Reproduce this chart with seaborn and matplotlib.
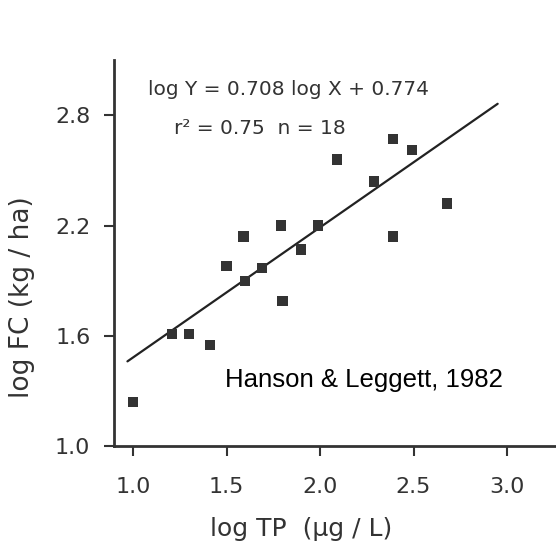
import numpy as np
import pandas as pd
import seaborn as sns
import matplotlib.pyplot as plt

# data (log TP vs log FC)
log_tp = [1.00, 1.21, 1.30, 1.41, 1.50, 1.60, 1.59, 1.69, 1.79, 1.80, 1.90, 1.99, 2.09, 2.29, 2.39, 2.39, 2.49, 2.68]
log_fc = [1.24, 1.61, 1.61, 1.55, 1.98, 1.90, 2.14, 1.97, 2.20, 1.79, 2.07, 2.20, 2.56, 2.44, 2.67, 2.14, 2.61, 2.32]

# regression line from the printed equation
slope = 0.708
intercept = 0.774
fit_x = np.array([0.97, 2.95])
fit_y = slope * fit_x + intercept

x_ticks = [1.0, 1.5, 2.0, 2.5, 3.0]
y_ticks = [1.0, 1.6, 2.2, 2.8]

df = pd.DataFrame({'log TP': log_tp, 'log FC': log_fc})

sns.set_style('ticks')
plt.rcParams['font.family'] = ['DejaVu Sans']

fig = plt.figure(figsize=(5.56, 5.47), dpi=100)
ax = fig.add_axes([0.205, 0.1846, 0.795, 0.7054])

ink = '#333333'

sns.lineplot(x=fit_x, y=fit_y, ax=ax, color='#222222', linewidth=1.6)
sns.scatterplot(data=df, x='log TP', y='log FC', ax=ax, marker='s', s=55,
                color=ink, edgecolor='none', zorder=3)

ax.set_xlim(0.898, 3.262)
ax.set_ylim(1.0, 3.10)
ax.set_xticks(x_ticks)
ax.set_yticks(y_ticks)
ax.set_xticklabels([f'{t:.1f}' for t in x_ticks])
ax.set_yticklabels([f'{t:.1f}' for t in y_ticks])
ax.tick_params(axis='both', colors=ink, labelsize=16, width=1.5, length=7)
ax.tick_params(axis='x', pad=15)
ax.tick_params(axis='y', pad=10)

sns.despine(ax=ax)
for side in ['left', 'bottom']:
    ax.spines[side].set_linewidth(2)
    ax.spines[side].set_color(ink)

ax.set_xlabel('log TP  (\u00b5g / L)', fontsize=18, color=ink)
ax.xaxis.set_label_coords(0.423, -0.183)
ax.set_ylabel('log FC (kg / ha)', fontsize=19, color=ink, va='center')
ax.yaxis.set_label_coords(-0.208, 0.386)

ax.text(1.08, 2.94, 'log Y = 0.708 log X + 0.774', fontsize=14.5, color=ink,
        va='center', ha='left')
ax.text(1.22, 2.73, 'r\u00b2 = 0.75  n = 18', fontsize=14.5, color=ink,
        va='center', ha='left')
ax.text(1.49, 1.36, 'Hanson & Leggett, 1982', fontsize=18.5, color='black',
        va='center', ha='left', family=['Liberation Sans', 'DejaVu Sans'])

fig.savefig('out.png', dpi=100)
